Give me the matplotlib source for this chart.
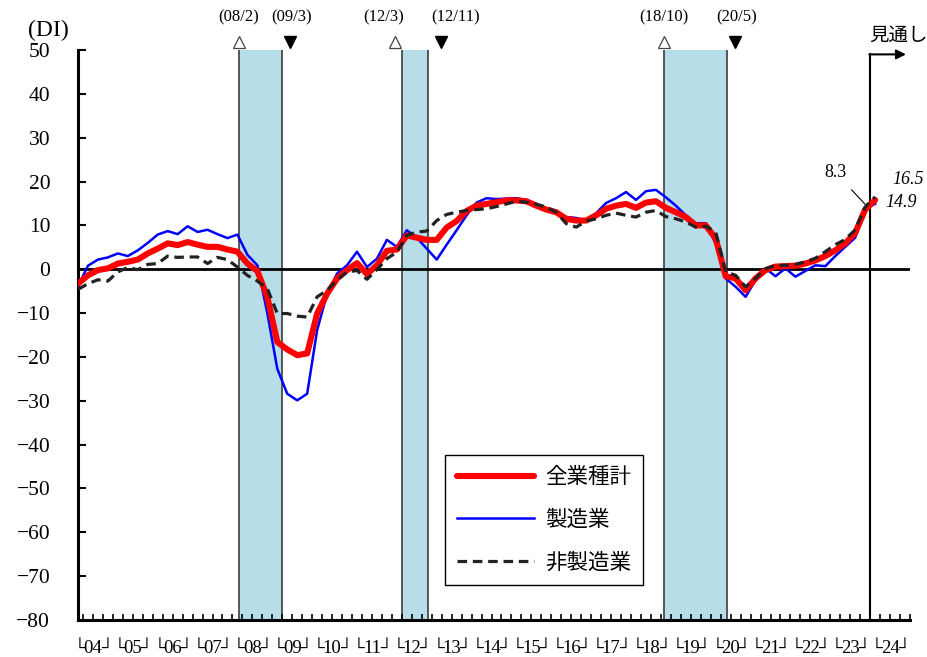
import matplotlib
matplotlib.use("Agg")
import matplotlib.pyplot as plt
import numpy as np

# quarterly DI, 2004Q1 .. 2024Q1 (last quarter is the outlook)
years = [f"{y % 100:02d}" for y in range(2004, 2025)]
total = [-3.3, -1.4, -0.2, 0.2, 1.3, 1.7, 2.2, 3.6, 4.7, 5.9,
         5.5, 6.2, 5.6, 5.1, 5.1, 4.5, 4.0, 1.3, -0.4, -6.3,
         -16.6, -18.3, -19.6, -19.2, -10.1, -5.6, -2.1, -0.2, 1.4, -1.1,
         0.9, 4.2, 4.5, 7.7, 7.2, 6.7, 6.7, 9.5, 11.0, 13.3,
         14.5, 14.9, 15.3, 15.7, 15.7, 15.5, 14.5, 13.6, 13.0, 11.5,
         11.1, 11.1, 12.3, 13.8, 14.5, 14.9, 14.0, 15.2, 15.5, 14.0,
         13.0, 11.9, 10.0, 10.0, 7.0, -1.6, -2.1, -4.8, -2.1, -0.2,
         0.6, 0.7, 0.8, 1.3, 2.0, 3.0, 4.3, 5.9, 8.3, 13.6,
         15.8]
manufacturing = [-3.9, 0.8, 2.2, 2.7, 3.6, 3.0, 4.3, 6.0, 7.9, 8.7,
                 8.0, 9.8, 8.5, 9.0, 8.0, 7.1, 7.9, 3.3, 0.9, -10.0,
                 -22.7, -28.4, -29.9, -28.4, -13.9, -5.6, -1.0, 0.9, 4.0, 0.5,
                 2.4, 6.7, 5.1, 8.9, 7.2, 4.7, 2.2, 5.6, 8.9, 12.3,
                 15.2, 16.2, 16.0, 16.1, 16.2, 15.8, 14.9, 13.4, 12.8, 11.9,
                 11.7, 11.1, 12.8, 15.1, 16.2, 17.6, 15.8, 17.8, 18.1, 16.4,
                 14.5, 12.3, 10.5, 10.5, 5.8, -2.1, -4.0, -6.3, -2.5, 0.2,
                 -1.6, 0.2, -1.7, -0.4, 0.9, 0.7, 3.0, 5.1, 7.2, 13.8,
                 14.9]
non_manufacturing = [-4.6, -3.3, -2.4, -2.7, -0.6, 0.4, -0.1, 1.1, 1.3, 3.0,
                     2.7, 2.8, 2.8, 1.3, 2.7, 2.2, 0.5, -1.4, -2.7, -4.4,
                     -10.1, -10.1, -10.7, -10.9, -6.3, -4.8, -2.5, -0.6, -0.3, -2.3,
                     -0.1, 2.4, 3.9, 7.7, 8.5, 8.7, 11.1, 12.5, 13.0, 13.4,
                     13.6, 13.8, 14.3, 14.9, 15.5, 15.3, 14.8, 14.2, 13.0, 10.4,
                     9.6, 11.0, 11.5, 12.3, 12.8, 12.3, 11.9, 13.0, 13.4, 12.0,
                     11.5, 10.8, 9.6, 9.8, 8.5, -0.6, -1.4, -4.0, -2.1, 0.1,
                     0.9, 0.9, 1.1, 1.7, 2.5, 4.0, 5.6, 6.8, 9.0, 14.2,
                     16.5]
series_names = ["全業種計", "製造業", "非製造業"]

# business cycle peaks (△) and troughs (▼), (year, month)
peaks = [(2008, 2), (2012, 3), (2018, 10)]
troughs = [(2009, 3), (2012, 11), (2020, 5)]
latest_label = "8.3"
outlook_labels = ["16.5", "14.9"]

serif = ["Liberation Serif", "DejaVu Sans"]
gothic = ["Noto Sans CJK JP", "DejaVu Sans"]


def month_pos(y, m):
    # x unit = one quarter, 2004Q1 point at 0
    return (y - 2004) * 4 - 0.5 + (m - 0.5) / 3 + 0.15


fig = plt.figure(figsize=(9.28, 6.57), dpi=100)
ax = fig.add_axes([78 / 928, 37 / 657, 832 / 928, 570 / 657])

x = np.arange(len(total))
x_end = len(years) * 4 - 0.5
x_outlook = (2024 - 2004) * 4 - 0.5

for (py, pm), (ty, tm) in zip(peaks, troughs):
    p, t = month_pos(py, pm), month_pos(ty, tm)
    ax.axvspan(p, t, color="#b6dde8", lw=0, zorder=0)
    ax.axvline(p, color="#4a4a4a", lw=1.3, zorder=1)
    ax.axvline(t, color="#4a4a4a", lw=1.3, zorder=1)
    # spread the labels apart when the shaded period is short
    narrow = t - p < 4
    tri_p = p - (0.7 if narrow else 0)
    tri_t = t + 0.8 + (0.5 if narrow else 0)
    lab_p = p - (1.8 if narrow else 0)
    lab_t = t + 0.9 + (1.8 if narrow else 0)
    ax.plot(tri_p, 51.8, marker="^", ms=9, mfc="white", mec="#444", mew=0.9,
            clip_on=False)
    ax.plot(tri_t, 51.8, marker="v", ms=9, color="black", clip_on=False)
    ax.text(lab_p, 57.4, f"({py % 100:02d}/{pm})", ha="center", va="center",
            fontsize=12, family=serif)
    ax.text(lab_t, 57.4, f"({ty % 100:02d}/{tm})", ha="center", va="center",
            fontsize=12, family=serif)

ax.axhline(0, color="black", lw=2, zorder=2)

ax.plot(x, total, color="#ff0000", lw=4.4, solid_capstyle="round",
        label=series_names[0], zorder=4)
ax.plot(x, manufacturing, color="#0000ff", lw=1.8,
        label=series_names[1], zorder=3)
ax.plot(x, non_manufacturing, color="#222222", lw=2.3, dashes=(3, 1.8),
        label=series_names[2], zorder=5)

# outlook marker
ax.plot([x_outlook, x_outlook], [-80, 49], color="black", lw=1.5,
        clip_on=False, zorder=2)
ax.annotate("", xy=(x_outlook + 3.6, 49), xytext=(x_outlook - 0.08, 49),
            arrowprops=dict(arrowstyle="-|>", color="black", lw=1.5,
                            mutation_scale=14, shrinkA=0, shrinkB=0),
            annotation_clip=False)
ax.text(x_outlook + 2.8, 53.4, "見通し", ha="center", va="center",
        fontsize=14, family=gothic)

ax.annotate(latest_label, xy=(79.0, 14.8), xytext=(76.0, 22.1),
            ha="center", va="center", fontsize=13, family=serif,
            arrowprops=dict(arrowstyle="-", color="black", lw=0.8,
                            shrinkA=6, shrinkB=0))
ax.text(81.7, 20.5, outlook_labels[0], ha="left", va="center", fontsize=13,
        style="italic", family=serif, clip_on=False)
ax.text(81.0, 15.2, outlook_labels[1], ha="left", va="center", fontsize=13,
        style="italic", family=serif, clip_on=False)

ax.set_xlim(0, x_end)
ax.set_ylim(-80, 50)
ax.set_yticks(range(-80, 51, 10))
ax.set_xticks(np.arange(0.5, x_end + 0.01, 1))
ax.set_xticklabels([])
ax.tick_params(axis="y", direction="in", length=6, width=1.5, pad=20,
               labelsize=15.5)
ax.tick_params(axis="x", direction="in", length=4, width=1.2)
for lab in ax.get_yticklabels():
    lab.set_family(serif)

# year labels in the style  └04┘
xt = ax.get_xaxis_transform()
for k, yr in enumerate(years):
    ax.text(4 * k + 1.5, -0.058, yr, transform=xt, ha="center",
            va="baseline", fontsize=13.5, family=serif)
    ax.text(4 * k - 0.45, -0.058, "└", transform=xt, ha="left",
            va="baseline", fontsize=12, family=serif)
    ax.text(4 * k + 3.45, -0.058, "┘", transform=xt, ha="right",
            va="baseline", fontsize=12, family=serif)

for side in ["top", "right"]:
    ax.spines[side].set_visible(False)
for side in ["left", "bottom"]:
    ax.spines[side].set_linewidth(2.2)

fig.text(28 / 928, 1 - 30 / 657, "(DI)", ha="left", va="center",
         fontsize=17, family=serif)

leg = ax.legend(loc="lower left", bbox_to_anchor=(0.441, 0.061),
                borderaxespad=0, prop={"family": gothic, "size": 15.5},
                handlelength=3.6, labelspacing=0.95, borderpad=0.55,
                handletextpad=0.5, fancybox=False, edgecolor="black",
                framealpha=1)
leg.get_frame().set_linewidth(1.0)

fig.savefig("out.png", dpi=100)
